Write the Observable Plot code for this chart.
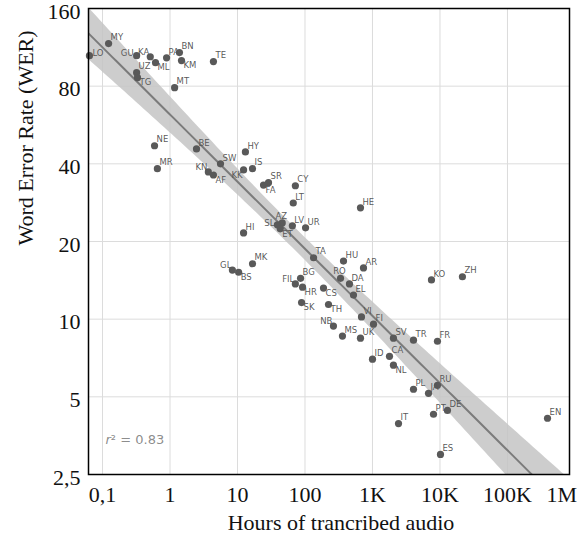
<!DOCTYPE html>
<html>
<head>
<meta charset="utf-8">
<script src="https://cdn.jsdelivr.net/npm/d3@7"></script>
<script src="https://cdn.jsdelivr.net/npm/@observablehq/plot@0.6"></script>
<style>
  html, body { margin: 0; padding: 0; background: #fff; }
  svg text { -webkit-font-smoothing: antialiased; }
</style>
</head>
<body>
<div id="chart"></div>
<script>
// ---- Data ----
const languages = ["LO","MY","GU","KA","ML","PA","BN","KM","TE","UZ","TG","MT",
  "NE","MR","BE","KN","AF","SW","HY","KK","IS","SR","FA","CY","LT","HE",
  "AZ","SL","ET","LV","UR","HI","TA","MK","GL","BS","HU","AR","BG","FIL",
  "HR","RO","DA","CS","EL","SK","TH","VI","FI","NB","MS","UK","SV","TR",
  "FR","ID","CA","NL","KO","ZH","PL","JA","RU","PT","DE","IT","EN","ES"];
const hours = [0.064,0.123,0.32,0.51,0.61,0.89,1.38,1.48,4.4,0.32,0.33,1.17,
  0.59,0.65,2.47,3.7,4.4,5.6,13.1,12.3,16.7,28.8,24.3,72,67,664,
  46,39,43,65,102,12.3,134,16.7,8.4,10.4,372,736,86,72,
  92,336,456,188,523,89,223,687,1035,264,359,664,2046,4050,
  9180,1000,1786,2046,7480,21500,4050,6760,9180,8020,12900,2430,392000,10170];
const wer = [105,117,105,104,98.7,103,108,100.5,99.6,90.2,86.3,78.9,
  47.0,38.3,45.7,37.2,36.2,40.0,44.5,37.9,38.3,33.8,33.1,32.9,28.2,27.0,
  23.6,23.2,22.4,23.0,22.6,21.6,17.3,16.4,15.5,15.2,16.8,15.8,14.4,13.7,
  13.3,14.4,13.7,13.2,12.4,11.6,11.4,10.2,9.56,9.4,8.6,8.44,8.44,8.29,
  8.21,7.0,7.18,6.63,14.2,14.6,5.35,5.16,5.54,4.28,4.43,3.94,4.13,2.99];

const xTicks = [0.1, 1, 10, 100, 1000, 10000, 100000, 1000000];
const xTickLabels = ["0,1", "1", "10", "100", "1K", "10K", "100K", "1M"];
const yTicks = [2.5, 5, 10, 20, 40, 80, 160];
const yTickLabels = ["2,5", "5", "10", "20", "40", "80", "160"];
const xTitle = "Hours of trancribed audio";
const yTitle = "Word Error Rate (WER)";
const rSquaredLabel = "r² = 0.83";

// label placement around each dot (default: north-east)
const labelPlacement = {
  TG: "se", ML: "se", KM: "se", AF: "se", FA: "se", ET: "se", BS: "se",
  HR: "se", CS: "se", SK: "se", TH: "se", NL: "se",
  KN: "nw", GL: "nw", FIL: "nw", SL: "w", NB: "nw", KA: "nw", KK: "sw",
  GU: "w", LO: "e", RO: "n", AZ: "n"
};

// ---- Build table ----
const data = languages.map((code, i) => ({code, hours: hours[i], wer: wer[i]}));

// ---- Regression in log-log space with 95% confidence band ----
const lx = data.map(d => Math.log10(d.hours));
const ly = data.map(d => Math.log10(d.wer));
const n = data.length;
const mx = d3.mean(lx), my = d3.mean(ly);
const sxx = d3.sum(lx, v => (v - mx) ** 2);
const sxy = d3.sum(lx.map((v, i) => (v - mx) * (ly[i] - my)));
const slope = sxy / sxx;
const intercept = my - slope * mx;
const sse = d3.sum(lx.map((v, i) => (ly[i] - (intercept + slope * v)) ** 2));
const s = Math.sqrt(sse / (n - 2));
const tCrit = 1.997;

const xDomain = [0.062, 830000];
const yDomain = [2.5, 160];
const l0 = Math.log10(xDomain[0]), l1 = Math.log10(xDomain[1]);
const fit = d3.range(121).map(i => {
  const x = l0 + (i / 120) * (l1 - l0);
  const y = intercept + slope * x;
  const se = s * Math.sqrt(1 / n + (x - mx) ** 2 / sxx);
  return {x: 10 ** x, y: 10 ** y, lo: 10 ** (y - tCrit * se), hi: 10 ** (y + tCrit * se)};
});

const placements = {
  ne: {dx: 2, dy: -6, anchor: "start"},
  se: {dx: 2, dy: 5, anchor: "start"},
  nw: {dx: -1, dy: -5, anchor: "end"},
  sw: {dx: -1, dy: 5, anchor: "end"},
  w:  {dx: -3, dy: -2, anchor: "end"},
  e:  {dx: 3, dy: -2, anchor: "start"},
  n:  {dx: -1, dy: -7, anchor: "middle"}
};
const labelMarks = Object.entries(placements).map(([key, p]) =>
  Plot.text(data.filter(d => (labelPlacement[d.code] || "ne") === key), {
    x: "hours", y: "wer", text: "code",
    dx: p.dx, dy: p.dy, textAnchor: p.anchor,
    fontFamily: "'DejaVu Sans', sans-serif", fontSize: 8.5, fill: "#555", fillOpacity: 0.99
  })
);

const serif = "'Liberation Serif', 'Times New Roman', serif";
const fontPx = 22;

const chart = Plot.plot({
  width: 585,
  height: 542,
  marginLeft: 88,
  marginRight: 16,
  marginTop: 8,
  marginBottom: 68,
  style: {fontFamily: serif, fontSize: fontPx + "px", color: "#111", background: "#fff"},
  x: {type: "log", domain: xDomain, axis: null},
  y: {type: "log", domain: yDomain, axis: null},
  marks: [
    Plot.ruleX(xTicks.filter(v => v < xDomain[1]), {x: d => d, stroke: "#dcdcdc", strokeWidth: 1}),
    Plot.ruleY(yTicks.filter(v => v > yDomain[0] && v < yDomain[1]), {y: d => d, stroke: "#dcdcdc", strokeWidth: 1}),
    Plot.areaY(fit, {x: "x", y1: "lo", y2: "hi", fill: "#c4c4c4", fillOpacity: 0.85, clip: true}),
    Plot.line(fit, {x: "x", y: "y", stroke: "#7b7b7b", strokeWidth: 2, clip: true}),
    Plot.dot(data, {x: "hours", y: "wer", r: 3.6, fill: "#595959"}),
    ...labelMarks,
    Plot.text([rSquaredLabel], {frameAnchor: "bottom-left", text: d => d, dx: 17, dy: -31,
      textAnchor: "start", fontFamily: "'DejaVu Sans', sans-serif", fontSize: 13, fill: "#8a8a8a", fillOpacity: 0.99}),
    Plot.frame({stroke: "#000", strokeWidth: 1.5}),
    // x tick labels
    Plot.axisX({ticks: xTicks.filter(v => v < xDomain[1]), tickFormat: d => xTickLabels[xTicks.indexOf(d)],
      tickSize: 0, tickPadding: 12, fontSize: fontPx, label: null}),
    Plot.axisX({ticks: xTicks.filter(v => v >= xDomain[1]), tickFormat: d => xTickLabels[xTicks.indexOf(d)],
      tickSize: 0, tickPadding: 12, fontSize: fontPx, textAnchor: "end", dx: 2, label: null}),
    // y tick labels through the y scale
    Plot.text(yTicks, {y: d => d, text: d => yTickLabels[yTicks.indexOf(d)], frameAnchor: "left",
      textAnchor: "end", dx: -8, dy: 3, fontSize: fontPx, fontFamily: serif, fill: "#111"}),
    // axis titles
    Plot.text([xTitle], {text: d => d, frameAnchor: "bottom", dx: 12, dy: 55,
      fontSize: fontPx, fontFamily: serif, fill: "#111"}),
    Plot.text([yTitle], {text: d => d, frameAnchor: "left", rotate: -90, dx: -63, dy: 4,
      fontSize: fontPx, fontFamily: serif, fill: "#111"})
  ]
});

document.getElementById("chart").appendChild(chart);

// italic "r" in the r² annotation
d3.select(chart).selectAll("text").filter(function() { return this.textContent === rSquaredLabel; })
  .each(function() {
    const t = d3.select(this);
    t.text(null);
    t.append("tspan").attr("font-style", "italic").text(rSquaredLabel.slice(0, 1));
    t.append("tspan").text(rSquaredLabel.slice(1));
  });
</script>
</body>
</html>
